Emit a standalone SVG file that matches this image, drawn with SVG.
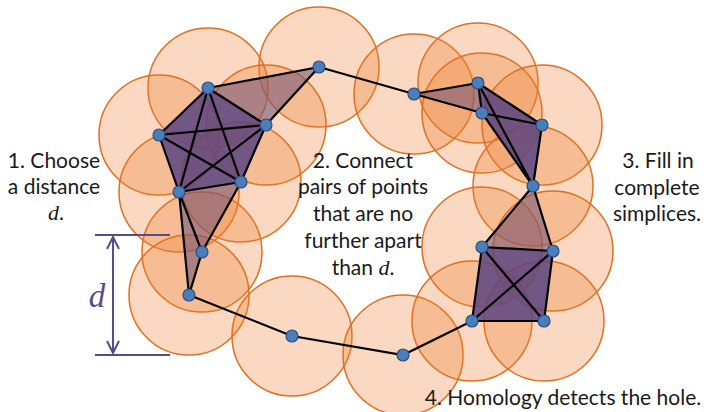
<svg xmlns="http://www.w3.org/2000/svg" width="707" height="412" viewBox="0 0 707 412">
<defs>
<style>
.ball{fill:#ED7D31;fill-opacity:0.3;stroke:#E0701F;stroke-width:1.5}
.tri{fill:#6E5078;fill-opacity:0.55;stroke:none}
.simp{fill:#5A4480;fill-opacity:0.85;stroke:none}
.edge{stroke:#000;stroke-width:2.2;fill:none;stroke-linecap:round}
.pt{fill:#4A7EBB;stroke:#2A4F80;stroke-width:1.2}
.lbl{font-family:Lato,"Open Sans",sans-serif;font-size:21px;fill:#1a1a1a;text-anchor:middle}
.math{font-family:"Liberation Serif",serif;font-style:italic;font-size:22px}
.dim{stroke:#5B4A86;stroke-width:2;fill:none}
</style>
<marker id="chev" viewBox="0 0 14 14" refX="13" refY="7" markerWidth="14" markerHeight="14" markerUnits="userSpaceOnUse" orient="auto-start-reverse">
<path d="M1,1 L13,7 L1,13" stroke="#5B4A86" stroke-width="2" fill="none"/>
</marker>
</defs>
<rect width="707" height="412" fill="#fff"/>

<g id="balls">
<circle class="ball" cx="319" cy="67" r="60"/>
<circle class="ball" cx="208" cy="88" r="60"/>
<circle class="ball" cx="159" cy="135" r="60"/>
<circle class="ball" cx="266" cy="125" r="60"/>
<circle class="ball" cx="179" cy="192" r="60"/>
<circle class="ball" cx="241" cy="182" r="60"/>
<circle class="ball" cx="202" cy="252" r="60"/>
<circle class="ball" cx="189" cy="295" r="60"/>
<circle class="ball" cx="292" cy="336" r="60"/>
<circle class="ball" cx="403" cy="355" r="60"/>
<circle class="ball" cx="414" cy="94" r="60"/>
<circle class="ball" cx="478" cy="83" r="60"/>
<circle class="ball" cx="482" cy="113" r="60"/>
<circle class="ball" cx="542" cy="125" r="60"/>
<circle class="ball" cx="533" cy="186" r="60"/>
<circle class="ball" cx="482" cy="247" r="60"/>
<circle class="ball" cx="553" cy="251" r="60"/>
<circle class="ball" cx="472" cy="321" r="60"/>
<circle class="ball" cx="544" cy="321" r="60"/>
</g>

<g id="simplices">
<polygon class="tri" points="319,67 208,88 266,125"/>
<polygon class="tri" points="179,192 241,182 202,252"/>
<polygon class="tri" points="179,192 202,252 189,295"/>
<polygon class="tri" points="414,94 478,83 482,113"/>
<polygon class="tri" points="533,186 482,247 553,251"/>
<polygon class="simp" points="208,88 266,125 241,182 179,192 159,135"/>
<polygon class="simp" points="478,83 542,125 533,186 482,113"/>
<polygon class="simp" points="482,247 553,251 544,321 472,321"/>
</g>

<g id="connectors">
<path class="edge" d="M319,67 L208,88 M319,67 L266,125 M319,67 L414,94
M208,88 L159,135 M208,88 L266,125 M208,88 L179,192 M208,88 L241,182
M159,135 L266,125 M159,135 L179,192 M159,135 L241,182
M266,125 L179,192 M266,125 L241,182 M179,192 L241,182
M179,192 L202,252 M241,182 L202,252 M179,192 L189,295 M202,252 L189,295
M189,295 L292,336 L403,355 L472,321
M414,94 L478,83 M414,94 L482,113 M478,83 L482,113 M482,113 L542,125
M478,83 L542,125 M478,83 L533,186 M482,113 L533,186 M542,125 L533,186
M533,186 L482,247 M533,186 L553,251 M482,247 L553,251
M482,247 L472,321 M482,247 L544,321 M553,251 L472,321 M553,251 L544,321 M472,321 L544,321"/>
</g>

<g id="points">
<circle class="pt" cx="319" cy="67" r="6"/>
<circle class="pt" cx="208" cy="88" r="6"/>
<circle class="pt" cx="159" cy="135" r="6"/>
<circle class="pt" cx="266" cy="125" r="6"/>
<circle class="pt" cx="179" cy="192" r="6"/>
<circle class="pt" cx="241" cy="182" r="6"/>
<circle class="pt" cx="202" cy="252" r="6"/>
<circle class="pt" cx="189" cy="295" r="6"/>
<circle class="pt" cx="292" cy="336" r="6"/>
<circle class="pt" cx="403" cy="355" r="6"/>
<circle class="pt" cx="414" cy="94" r="6"/>
<circle class="pt" cx="478" cy="83" r="6"/>
<circle class="pt" cx="482" cy="113" r="6"/>
<circle class="pt" cx="542" cy="125" r="6"/>
<circle class="pt" cx="533" cy="186" r="6"/>
<circle class="pt" cx="482" cy="247" r="6"/>
<circle class="pt" cx="553" cy="251" r="6"/>
<circle class="pt" cx="472" cy="321" r="6"/>
<circle class="pt" cx="544" cy="321" r="6"/>
</g>

<g id="dmarker">
<path class="dim" d="M95,235 L170,235 M95,355 L170,355"/>
<path class="dim" d="M113,237 L113,353" marker-start="url(#chev)" marker-end="url(#chev)"/>
<text x="97" y="307" font-family="'Liberation Serif',serif" font-style="italic" font-size="33" fill="#5B4A86" text-anchor="middle">d</text>
</g>

<g id="text1">
<text class="lbl" x="54" y="168">1. Choose</text>
<text class="lbl" x="54" y="194">a distance</text>
<text class="lbl" x="56" y="220"><tspan class="math">d</tspan>.</text>
</g>
<g id="text2">
<text class="lbl" x="363" y="168">2. Connect</text>
<text class="lbl" x="363" y="194">pairs of points</text>
<text class="lbl" x="363" y="221">that are no</text>
<text class="lbl" x="363" y="248">further apart</text>
<text class="lbl" x="363" y="275">than <tspan class="math">d</tspan>.</text>
</g>
<g id="text3">
<text class="lbl" x="658" y="168">3. Fill in</text>
<text class="lbl" x="657" y="195">complete</text>
<text class="lbl" x="657" y="221">simplices.</text>
</g>
<g id="text4">
<text class="lbl" x="563" y="405">4. Homology detects the hole.</text>
</g>
</svg>
